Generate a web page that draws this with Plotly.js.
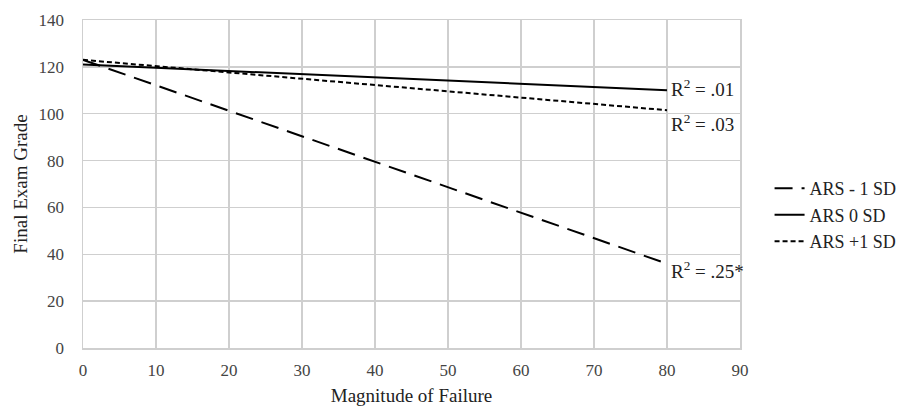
<!DOCTYPE html>
<html>
<head>
<meta charset="utf-8">
<script src="https://cdn.plot.ly/plotly-3.0.1.min.js"></script>
<style>html,body{margin:0;padding:0;background:#fff;}#chart{width:917px;height:414px;}</style>
</head>
<body>
<div id="chart"></div>
<script>
const xVals = [0, 80];
const arsMinus1 = [123, 36];
const ars0 = [121, 110];
const arsPlus1 = [123, 101.5];
const seriesNames = ["ARS - 1 SD", "ARS 0 SD", "ARS +1 SD"];
const r2Labels = ["R<sup>2</sup> = .01", "R<sup>2</sup> = .03", "R<sup>2</sup> = .25*"];
const r2Y = [111, 96, 33.5];

const font = '"Liberation Serif", "Times New Roman", serif';
const traces = [
  {x: xVals, y: arsMinus1, name: seriesNames[0], mode: "lines", line: {color: "#000", width: 2, dash: "18px,9px"}},
  {x: xVals, y: ars0, name: seriesNames[1], mode: "lines", line: {color: "#000", width: 2, dash: "solid"}},
  {x: xVals, y: arsPlus1, name: seriesNames[2], mode: "lines", line: {color: "#000", width: 2, dash: "5px,3px"}}
];
const annotations = r2Labels.map((t, i) => ({
  x: 80, y: r2Y[i], xref: "x", yref: "y", text: t, showarrow: false,
  xanchor: "left", yanchor: "middle", xshift: 2,
  font: {family: font, size: 19, color: "#222"}
}));
const layout = {
  width: 917, height: 414,
  margin: {l: 83, r: 177, t: 20, b: 66},
  paper_bgcolor: "#fff", plot_bgcolor: "#fff",
  font: {family: font, size: 17, color: "#333"},
  xaxis: {
    range: [0, 90], dtick: 10, tick0: 0, showgrid: true, gridcolor: "#cfcfcf", gridwidth: 1.5,
    zeroline: false, showline: true, linecolor: "#cfcfcf", linewidth: 1.5, mirror: true,
    ticks: "outside", ticklen: 6, tickcolor: "rgba(0,0,0,0)", tickfont: {family: font, size: 17, color: "#444"},
    title: {text: "Magnitude of Failure", font: {family: font, size: 19, color: "#222"}, standoff: 10}
  },
  yaxis: {
    range: [0, 140], dtick: 20, tick0: 0, showgrid: true, gridcolor: "#cfcfcf", gridwidth: 1.5,
    zeroline: false, showline: true, linecolor: "#cfcfcf", linewidth: 1.5, mirror: true,
    ticks: "outside", ticklen: 14, tickcolor: "rgba(0,0,0,0)", tickfont: {family: font, size: 17, color: "#444"},
    title: {text: "Final Exam Grade", font: {family: font, size: 19, color: "#222"}, standoff: 6}
  },
  showlegend: true,
  legend: {x: 1.045, xanchor: "left", y: 0.405, yanchor: "middle", font: {family: font, size: 18, color: "#222"},
           bgcolor: "rgba(0,0,0,0)", tracegroupgap: 4, itemwidth: 30},
  annotations: annotations
};
Plotly.newPlot("chart", traces, layout, {displayModeBar: false, staticPlot: true});
</script>
</body>
</html>
